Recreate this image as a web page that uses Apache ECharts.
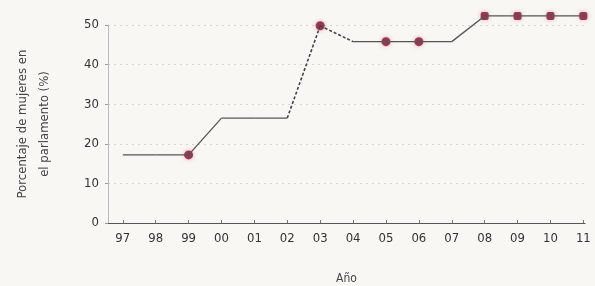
<!DOCTYPE html>
<html><head><meta charset="utf-8">
<script src="https://cdn.jsdelivr.net/npm/echarts@6/dist/echarts.min.js"></script>
<style>html,body{margin:0;padding:0;background:#f8f7f3}#c{width:595px;height:286px}</style>
</head><body><div id="c"></div>
<script>
const years = ['97','98','99','00','01','02','03','04','05','06','07','08','09','10','11'];
const values = [17.2, 17.2, 17.2, 26.5, 26.5, 26.5, 49.8, 45.8, 45.8, 45.8, 45.8, 52.3, 52.3, 52.3, 52.3];
const circleMarks = ['99','03','05','06'];
const squareMarks = ['08','09','10','11'];
const dashedFrom = ['02','03'];

const idx = years.map((_, i) => i);
const lineColor = '#555';
const markColor = '#7d1633';

const series = [];
for (let i = 0; i < years.length - 1; i++) {
  const dashed = dashedFrom.includes(years[i]);
  series.push({
    type: 'line', silent: true, clip: false, symbol: 'none',
    data: [[i, values[i]], [i + 1, values[i + 1]]],
    lineStyle: { color: dashed ? '#444' : lineColor, width: dashed ? 1.6 : 1.3, type: dashed ? [3, 2] : 'solid' }
  });
}
series.push({
  type: 'scatter', clip: false, symbol: 'circle', symbolSize: 9,
  itemStyle: { color: markColor, shadowBlur: 4, shadowColor: 'rgba(230,120,150,0.8)' },
  data: years.map((y, i) => circleMarks.includes(y) ? [i, values[i]] : null).filter(Boolean)
});
series.push({
  type: 'scatter', clip: false, symbol: 'roundRect', symbolSize: 8,
  itemStyle: { color: markColor, shadowBlur: 4, shadowColor: 'rgba(230,120,150,0.8)' },
  data: years.map((y, i) => squareMarks.includes(y) ? [i, values[i]] : null).filter(Boolean)
});

const chart = echarts.init(document.getElementById('c'), null, { renderer: 'canvas' });
chart.setOption({
  backgroundColor: '#f8f7f3',
  animation: false,
  grid: { left: 108, right: 10, top: 25, bottom: 63, containLabel: false, outerBoundsMode: 'none' },
  xAxis: {
    type: 'value', min: -0.45, max: 14.05,
    name: 'Año', nameLocation: 'middle', nameGap: 50,
    nameTextStyle: { color: '#444', fontSize: 12, fontFamily: 'DejaVu Sans Condensed' },
    axisLine: { show: true, onZero: false, lineStyle: { color: '#555', width: 1.2 } },
    axisTick: { show: true, length: 3, inside: true, customValues: idx, lineStyle: { color: '#777' } },
    axisLabel: { customValues: idx, formatter: v => years[Math.round(v)], color: '#333', fontSize: 13, margin: 9, fontFamily: 'DejaVu Sans Condensed' },
    splitLine: { show: false }
  },
  yAxis: {
    type: 'value', min: 0, max: 50, interval: 10,
    name: 'Porcentaje de mujeres en\nel parlamento (%)', nameLocation: 'middle', nameGap: 52,
    nameTextStyle: { color: '#444', fontSize: 13, lineHeight: 22, fontFamily: 'DejaVu Sans Condensed' },
    axisLine: { show: true, onZero: false, lineStyle: { color: '#bbb', width: 1 } },
    axisTick: { show: true, length: 3, lineStyle: { color: '#999' } },
    axisLabel: { color: '#333', fontSize: 13, margin: 9, fontFamily: 'DejaVu Sans Condensed' },
    splitLine: { show: true, lineStyle: { color: '#d4d4d4', type: [2, 4], width: 1 } }
  },
  series
});
</script></body></html>
